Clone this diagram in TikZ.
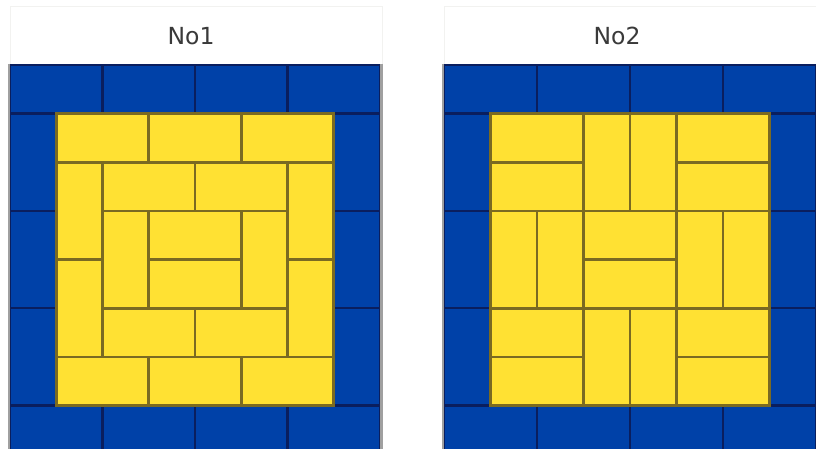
\documentclass[tikz,border=0pt]{standalone}
\usepackage{fontspec}
\setmainfont{DejaVu Sans}
\definecolor{bfill}{HTML}{0041A8}
\definecolor{bline}{HTML}{0A1E5E}
\definecolor{yfill}{HTML}{FFE133}
\definecolor{yline}{HTML}{7A6A22}
\definecolor{frameg}{HTML}{A0A0A0}
\definecolor{txt}{HTML}{3A3A3A}
\definecolor{hdr}{HTML}{F2F2F0}
\tikzset{
  bluebrick/.style={fill=bfill,draw=bline,line width=2.4pt},
  yellowbrick/.style={fill=yfill,draw=yline,line width=2.6pt},
  paneltitle/.style={font=\fontsize{23.5}{26}\selectfont,text=txt,inner sep=0pt},
  headerbox/.style={draw=hdr,line width=1pt},
  outerframe/.style={draw=frameg,line width=2.5pt}
}
\newcommand\bbrick[4]{\draw[bluebrick] (#1,#2) rectangle ++(#3,#4);}
\newcommand\ybrick[4]{\draw[yellowbrick] (#1,#2) rectangle ++(#3,#4);}
\newcommand\blueframe{%
  \bbrick{0}{0}{2}{1}\bbrick{2}{0}{2}{1}\bbrick{4}{0}{2}{1}\bbrick{6}{0}{2}{1}
  \bbrick{0}{7}{2}{1}\bbrick{2}{7}{2}{1}\bbrick{4}{7}{2}{1}\bbrick{6}{7}{2}{1}
  \bbrick{0}{1}{1}{2}\bbrick{0}{3}{1}{2}\bbrick{0}{5}{1}{2}
  \bbrick{7}{1}{1}{2}\bbrick{7}{3}{1}{2}\bbrick{7}{5}{1}{2}}
\begin{document}
\begin{tikzpicture}[x=1pt,y=-1pt]
\useasboundingbox[fill=white] (0,0) rectangle (816,449);
% headers
\draw[headerbox] (10,7) rectangle (382,65);
\draw[headerbox] (444,7) rectangle (818,65);
\node[paneltitle] (t1) at (191,36) {No1};
\node[paneltitle] (t2) at (617,36) {No2};
% ---------- panel No1 ----------
\begin{scope}[shift={(10pt,-65pt)},x=46.25pt,y=-48.65pt]
\blueframe
% inner pattern, offset (1,1)
\ybrick{1}{1}{2}{1}\ybrick{3}{1}{2}{1}\ybrick{5}{1}{2}{1}
\ybrick{1}{2}{1}{2}\ybrick{2}{2}{2}{1}\ybrick{4}{2}{2}{1}\ybrick{6}{2}{1}{2}
\ybrick{2}{3}{1}{2}\ybrick{3}{3}{2}{1}\ybrick{5}{3}{1}{2}
\ybrick{1}{4}{1}{2}\ybrick{3}{4}{2}{1}\ybrick{6}{4}{1}{2}
\ybrick{2}{5}{2}{1}\ybrick{4}{5}{2}{1}
\ybrick{1}{6}{2}{1}\ybrick{3}{6}{2}{1}\ybrick{5}{6}{2}{1}
\end{scope}
\draw[outerframe] (8.8,64) -- (8.8,452);
\draw[outerframe] (381.5,64) -- (381.5,452);
% ---------- panel No2 ----------
\begin{scope}[shift={(444pt,-65pt)},x=46.5pt,y=-48.65pt]
\blueframe
\ybrick{1}{1}{2}{1}\ybrick{1}{2}{2}{1}\ybrick{3}{1}{1}{2}\ybrick{4}{1}{1}{2}\ybrick{5}{1}{2}{1}\ybrick{5}{2}{2}{1}
\ybrick{1}{3}{1}{2}\ybrick{2}{3}{1}{2}\ybrick{3}{3}{2}{1}\ybrick{3}{4}{2}{1}\ybrick{5}{3}{1}{2}\ybrick{6}{3}{1}{2}
\ybrick{1}{5}{2}{1}\ybrick{1}{6}{2}{1}\ybrick{3}{5}{1}{2}\ybrick{4}{5}{1}{2}\ybrick{5}{5}{2}{1}\ybrick{5}{6}{2}{1}
\end{scope}
\draw[outerframe] (442.8,64) -- (442.8,452);
\end{tikzpicture}
\end{document}
